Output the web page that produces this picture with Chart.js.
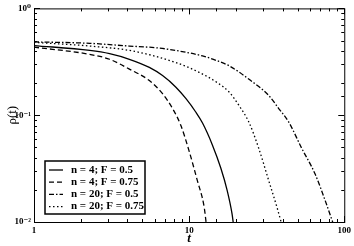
<!DOCTYPE html>
<html>
<head>
<meta charset="utf-8">
<script src="https://cdn.jsdelivr.net/npm/chart.js@4.4.1/dist/chart.umd.min.js"></script>
<style>
  html, body { margin: 0; padding: 0; background: #fff; }
  #wrap { width: 354px; height: 246px; }
</style>
</head>
<body>
<div id="wrap"><canvas id="rhoChart"></canvas></div>
<script>
// values (t, rho(t)) for each curve
const seriesLabels = ["n = 4; F = 0.5", "n = 4; F = 0.75", "n = 20; F = 0.5", "n = 20; F = 0.75"];

const tN4F05 = [1, 2.29, 3.07, 4.12, 5.54, 6.74, 8.22, 9.52, 11.0, 12.2, 14.1, 16.0, 17.6, 18.9, 19.3];
const rhoN4F05 = [0.449, 0.404, 0.377, 0.334, 0.28, 0.235, 0.183, 0.1435, 0.1077, 0.0844, 0.053, 0.032, 0.0197, 0.012, 0.0096];

const tN4F075 = [1, 2.29, 3.07, 4.12, 5.54, 6.74, 7.82, 8.85, 10, 11.3, 12.5, 12.9];
const rhoN4F075 = [0.434, 0.371, 0.334, 0.27, 0.211, 0.159, 0.1155, 0.08, 0.0461, 0.0244, 0.0138, 0.0096];

const tN20F05 = [1, 2.29, 4.12, 6.12, 7.44, 12.2, 15.2, 18.1, 24.2, 32.6, 37.8, 43.7, 53.2, 64.9, 75.2, 85];
const rhoN20F05 = [0.486, 0.471, 0.444, 0.428, 0.413, 0.359, 0.323, 0.29, 0.218, 0.153, 0.1155, 0.087, 0.049, 0.0281, 0.016, 0.0096];

const tN20F075 = [1, 2.29, 4.33, 8.22, 11.6, 15.2, 18.1, 20.9, 24.2, 28.1, 32.6, 36.8, 39.5];
const rhoN20F075 = [0.481, 0.444, 0.399, 0.311, 0.252, 0.2015, 0.165, 0.124, 0.087, 0.049, 0.0244, 0.0138, 0.0096];

const xTickLabels = ["1", "10", "100"];          // t = 10^0, 10^1, 10^2
const yTickLabels = ["10\u207B\u00B2", "10\u207B\u00B9", "10\u2070"]; // rho = 10^-2, 10^-1, 10^0

const serif = "'Liberation Serif', 'DejaVu Serif', serif";

function toPoints(ts, rs) {
  return ts.map((t, i) => ({ x: t, y: rs[i] }));
}

// integer decade of a value, or null when it is a minor tick
function decadeOf(v) {
  const l = Math.log10(v);
  const d = Math.round(l);
  return Math.abs(l - d) < 1e-6 ? d : null;
}

// frame round the plot plus inward ticks on all four sides
const frameTicks = {
  id: "frameTicks",
  afterDraw(chart) {
    const { ctx, chartArea: a, scales } = chart;
    ctx.save();
    ctx.strokeStyle = "#000";
    ctx.lineWidth = 1;
    ctx.strokeRect(a.left + 0.5, a.top + 0.5, a.right - a.left, a.bottom - a.top);
    ctx.beginPath();
    scales.x.ticks.forEach(tk => {
      const px = Math.round(scales.x.getPixelForValue(tk.value)) + 0.5;
      const len = decadeOf(tk.value) !== null ? 6 : 3;
      ctx.moveTo(px, a.bottom); ctx.lineTo(px, a.bottom - len);
      ctx.moveTo(px, a.top); ctx.lineTo(px, a.top + len);
    });
    scales.y.ticks.forEach(tk => {
      const py = Math.round(scales.y.getPixelForValue(tk.value)) + 0.5;
      const len = decadeOf(tk.value) !== null ? 6 : 3;
      ctx.moveTo(a.left, py); ctx.lineTo(a.left + len, py);
      ctx.moveTo(a.right, py); ctx.lineTo(a.right - len, py);
    });
    ctx.stroke();
    ctx.restore();
  }
};

// boxed legend in the lower left of the plot
const boxLegend = {
  id: "boxLegend",
  afterDraw(chart) {
    const { ctx, chartArea: a } = chart;
    const x0 = a.left + 11, y0 = a.bottom - 61, w = 100, h = 53;
    ctx.save();
    ctx.fillStyle = "#fff";
    ctx.fillRect(x0, y0, w, h);
    ctx.strokeStyle = "#000";
    ctx.lineWidth = 1.5;
    ctx.strokeRect(x0, y0, w, h);
    ctx.font = "bold 11px " + serif;
    ctx.fillStyle = "#000";
    ctx.textBaseline = "middle";
    chart.data.datasets.forEach((ds, i) => {
      const y = y0 + 9 + i * 12.2;
      ctx.setLineDash(ds.borderDash || []);
      ctx.lineWidth = ds.borderWidth;
      ctx.beginPath();
      ctx.moveTo(x0 + 4, y);
      ctx.lineTo(x0 + 18, y);
      ctx.stroke();
      ctx.setLineDash([]);
      ctx.fillText(ds.label, x0 + 26, y);
    });
    ctx.restore();
  }
};

const styles = [
  { borderDash: [] },
  { borderDash: [5, 3] },
  { borderDash: [5, 2, 1.5, 2] },
  { borderDash: [1.5, 2.5] }
];
const series = [
  toPoints(tN4F05, rhoN4F05),
  toPoints(tN4F075, rhoN4F075),
  toPoints(tN20F05, rhoN20F05),
  toPoints(tN20F075, rhoN20F075)
];

new Chart(document.getElementById("rhoChart"), {
  type: "line",
  data: {
    datasets: series.map((pts, i) => ({
      label: seriesLabels[i],
      data: pts,
      borderColor: "#000",
      borderWidth: 1.3,
      borderDash: styles[i].borderDash,
      pointRadius: 0,
      fill: false,
      cubicInterpolationMode: "monotone"
    }))
  },
  options: {
    responsive: true,
    maintainAspectRatio: false,
    animation: false,
    layout: { padding: { left: 0, top: 5, right: 8, bottom: 0 } },
    plugins: { legend: { display: false }, tooltip: { enabled: false } },
    scales: {
      x: {
        type: "logarithmic",
        min: 1,
        max: 100,
        grid: { display: false, drawTicks: false },
        border: { display: false },
        ticks: {
          autoSkip: false,
          maxRotation: 0,
          padding: 3,
          color: "#000",
          font: { family: serif, size: 9, weight: "bold" },
          callback: v => {
            const d = decadeOf(v);
            return d !== null ? xTickLabels[d] : "";
          }
        },
        title: {
          display: true,
          text: "t",
          color: "#000",
          padding: { top: 0, bottom: 0 },
          font: { family: serif, size: 13, weight: "bold", style: "italic" }
        },
        afterFit: s => { s.height = 24; }
      },
      y: {
        type: "logarithmic",
        min: 0.01,
        max: 1,
        grid: { display: false, drawTicks: false },
        border: { display: false },
        ticks: {
          autoSkip: false,
          padding: 3,
          color: "#000",
          font: { family: serif, size: 9, weight: "bold" },
          callback: v => {
            const d = decadeOf(v);
            return d !== null ? yTickLabels[d + 2] : "";
          }
        },
        title: {
          display: true,
          text: "\u03C1(t)",
          color: "#000",
          padding: { top: 5, bottom: 0 },
          font: { family: serif, size: 13 }
        },
        afterFit: s => { s.width = 34; }
      }
    }
  },
  plugins: [frameTicks, boxLegend]
});
</script>
</body>
</html>
